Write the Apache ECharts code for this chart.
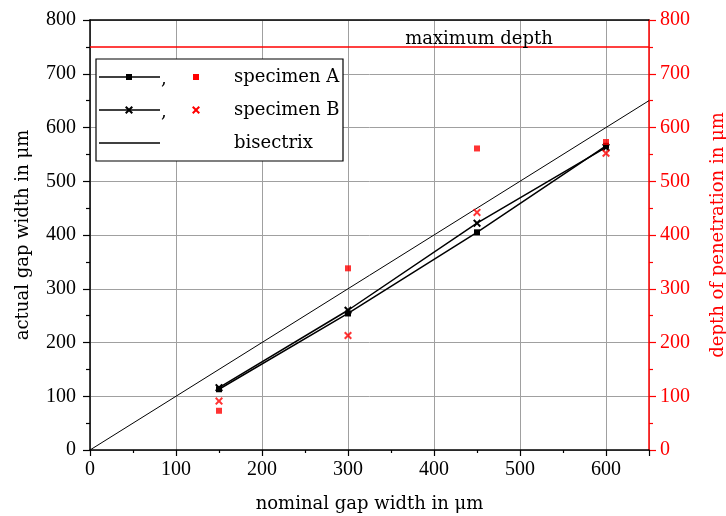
<!DOCTYPE html>
<html><head><meta charset="utf-8">
<script src="https://cdn.jsdelivr.net/npm/echarts@6/dist/echarts.min.js"></script>
<style>html,body{margin:0;padding:0;background:#fff}#c{width:726px;height:516px}</style>
</head><body><div id="c"></div>
<script>
// nominal gap width (x)
const nominal = [150, 300, 450, 600];
// actual gap width (left axis)
const gapA = [113, 254, 405, 566];
const gapB = [116, 260, 422, 563];
// depth of penetration (right axis)
const depthA = [73, 338, 561, 573];
const depthB = [91, 213, 442, 552];
// bisectrix
const bisectrix = [[0, 0], [650, 650]];
const maxDepth = 750;
const xTicks = [0, 100, 200, 300, 400, 500, 600];

const NUMFONT = 'Liberation Serif';
const WORDFONT = 'DejaVu Serif';
const RED = '#ff0000';
const XPATH = 'path://M0,1.8L1.8,0L5,3.2L8.2,0L10,1.8L6.8,5L10,8.2L8.2,10L5,6.8L1.8,10L0,8.2L3.2,5Z';
const zip = (xs, ys) => xs.map((x, i) => [x, ys[i]]);

const chart = echarts.init(document.getElementById('c'), null, {renderer: 'canvas'});
const num = {fontFamily: NUMFONT, fontSize: 20, color: '#000'};
const word = {fontFamily: WORDFONT, fontSize: 18, color: '#000'};

chart.setOption({
  animation: false,
  backgroundColor: '#fff',
  grid: {left: 90, top: 20, width: 559, height: 430, containLabel: false, outerBoundsMode: 'none'},
  xAxis: [{
    type: 'value', min: 0, max: 650, interval: 100,
    name: 'nominal gap width in μm', nameLocation: 'middle', nameGap: 45,
    nameTextStyle: word,
    axisLine: {show: true, onZero: false, lineStyle: {color: '#000', width: 1.5}},
    axisTick: {show: true, inside: false, length: 6, lineStyle: {color: '#000', width: 1.2}},
    minorTick: {show: true, splitNumber: 2, length: 3, lineStyle: {color: '#000', width: 1.2}},
    axisLabel: {...num, margin: 10, showMaxLabel: false,
      formatter: v => xTicks.includes(v) ? String(v) : ''},
    splitLine: {show: true, lineStyle: {color: '#a0a0a0', width: 1}},
    minorSplitLine: {show: false}
  }, {
    type: 'value', min: 0, max: 650, position: 'top',
    axisLine: {show: true, onZero: false, lineStyle: {color: '#000', width: 1.5}},
    axisTick: {show: false}, minorTick: {show: false}, axisLabel: {show: false}, splitLine: {show: false}
  }],
  yAxis: [{
    type: 'value', min: 0, max: 800, interval: 100, position: 'left',
    name: 'actual gap width in μm', nameLocation: 'middle', nameGap: 58,
    nameTextStyle: word,
    axisLine: {show: true, onZero: false, lineStyle: {color: '#000', width: 1.5}},
    axisTick: {show: true, inside: false, length: 7, lineStyle: {color: '#000', width: 1.2}},
    minorTick: {show: true, splitNumber: 2, length: 4, lineStyle: {color: '#000', width: 1.2}},
    axisLabel: {...num, margin: 14},
    splitLine: {show: true, lineStyle: {color: '#a0a0a0', width: 1}}
  }, {
    type: 'value', min: 0, max: 800, interval: 100, position: 'right',
    name: 'depth of penetration in μm', nameLocation: 'middle', nameGap: 60,
    nameTextStyle: {...word, color: RED},
    axisLine: {show: true, onZero: false, lineStyle: {color: RED, width: 1.5}},
    axisTick: {show: true, inside: false, length: 7, lineStyle: {color: RED, width: 1.2}},
    minorTick: {show: true, splitNumber: 2, length: 4, lineStyle: {color: RED, width: 1.2}},
    axisLabel: {...num, color: RED, margin: 11},
    splitLine: {show: false}
  }],
  series: [
    {type: 'line', name: 'bisectrix', data: bisectrix, symbol: 'none',
      lineStyle: {color: '#000', width: 1}, z: 3},
    {type: 'line', name: 'max depth', yAxisIndex: 1, data: [[0, maxDepth], [650, maxDepth]],
      symbol: 'none', lineStyle: {color: RED, width: 1.5}, z: 3},
    {type: 'line', name: 'specimen A gap', data: zip(nominal, gapA),
      symbol: 'rect', symbolSize: 6, itemStyle: {color: '#000'},
      lineStyle: {color: '#000', width: 1.5}, z: 4},
    {type: 'line', name: 'specimen B gap', data: zip(nominal, gapB),
      symbol: XPATH, symbolSize: 8, itemStyle: {color: '#000'},
      lineStyle: {color: '#000', width: 1.5}, z: 4},
    {type: 'scatter', name: 'specimen A depth', yAxisIndex: 1, data: zip(nominal, depthA),
      symbol: 'rect', symbolSize: 6, itemStyle: {color: RED}, z: 5},
    {type: 'scatter', name: 'specimen B depth', yAxisIndex: 1, data: zip(nominal, depthB),
      symbol: XPATH, symbolSize: 8, itemStyle: {color: RED}, z: 5}
  ]
});

const mdPos = chart.convertToPixel({xAxisIndex: 0, yAxisIndex: 1}, [450, maxDepth]);

// legend drawn as graphic
const lg = {x: 96, y: 59, w: 247, h: 102};
const rows = [77, 110, 143];
const wfont = '18px "' + WORDFONT + '"';
const els = [
  {type: 'rect', shape: {x: lg.x, y: lg.y, width: lg.w, height: lg.h},
    style: {fill: '#fff', stroke: '#000', lineWidth: 1.2}, z: 100},
  {type: 'text', x: mdPos[0] + 2, y: mdPos[1] + 1,
    style: {text: 'maximum depth', align: 'center', verticalAlign: 'bottom', font: wfont, fill: '#000'}, z: 100}
];
const labels = ['specimen A', 'specimen B', 'bisectrix'];
rows.forEach((ry, i) => {
  els.push({type: 'line', shape: {x1: 99, y1: ry, x2: 160, y2: ry},
    style: {stroke: '#000', lineWidth: 1.5}, z: 101});
  els.push({type: 'text', x: 234, y: ry,
    style: {text: labels[i], verticalAlign: 'middle', font: wfont, fill: '#000'}, z: 101});
  if (i < 2) {
    els.push({type: 'text', x: 161, y: ry + 2,
      style: {text: ',', verticalAlign: 'middle', font: wfont, fill: '#000'}, z: 101});
  }
});
els.push({type: 'rect', shape: {x: 126, y: rows[0] - 3, width: 6, height: 6}, style: {fill: '#000'}, z: 102});
els.push({type: 'rect', shape: {x: 193, y: rows[0] - 3, width: 6, height: 6}, style: {fill: RED}, z: 102});
const xPts = (cx, cy) => [[0,1.8],[1.8,0],[5,3.2],[8.2,0],[10,1.8],[6.8,5],[10,8.2],[8.2,10],[5,6.8],[1.8,10],[0,8.2],[3.2,5]]
  .map(p => [cx - 4 + p[0] * 0.8, cy - 4 + p[1] * 0.8]);
els.push({type: 'polygon', shape: {points: xPts(129, rows[1])}, style: {fill: '#000'}, z: 102});
els.push({type: 'polygon', shape: {points: xPts(196, rows[1])}, style: {fill: RED}, z: 102});
chart.setOption({graphic: {elements: els}});
</script></body></html>
